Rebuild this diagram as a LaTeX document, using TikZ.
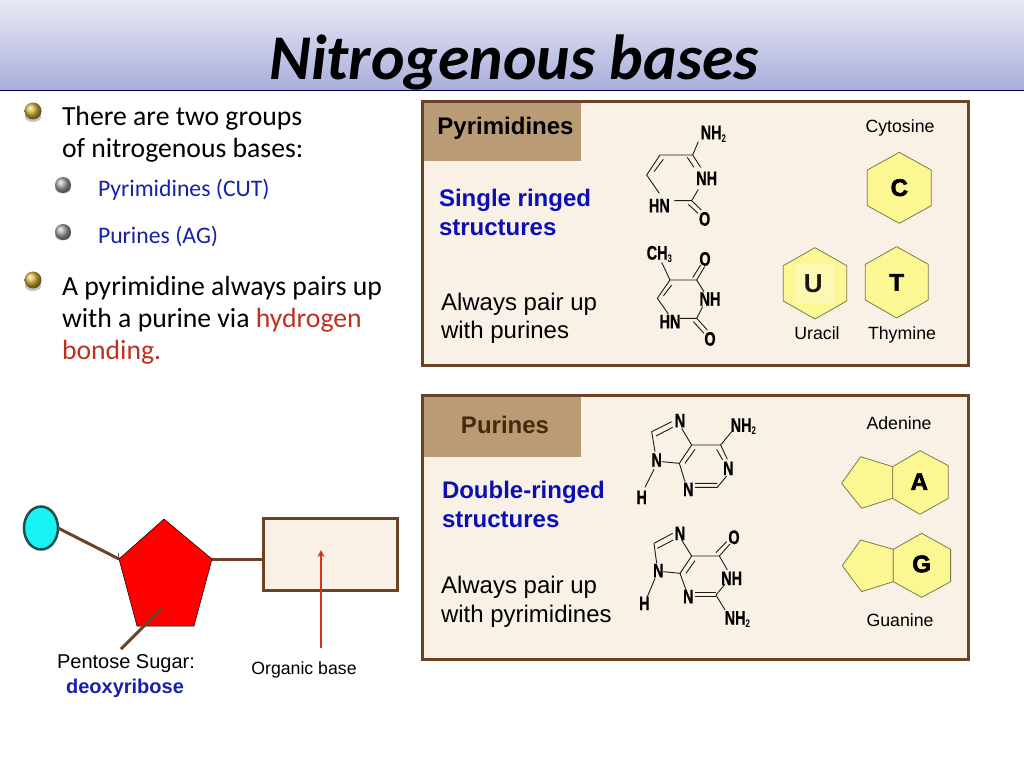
\documentclass[tikz,border=0pt]{standalone}
\usepackage{fontspec}
\usetikzlibrary{shapes.geometric,arrows.meta}
\setmainfont{Liberation Sans}
\newfontfamily\carl{Carlito}
\newfontfamily\heavy[BoldFeatures={FakeBold=2.5}]{Liberation Sans}
\newfontfamily\atomf[BoldFeatures={FakeBold=.8}]{Liberation Sans}
\definecolor{panel}{HTML}{F9F1E6}
\definecolor{brownline}{HTML}{6B4226}
\definecolor{headbox}{HTML}{B99B75}
\definecolor{hexfill}{HTML}{FBF792}
\definecolor{hexline}{HTML}{7C7A50}
\definecolor{deepblue}{HTML}{1522A8}
\definecolor{panelblue}{HTML}{0A0FB4}
\definecolor{redtxt}{HTML}{C0301F}
\definecolor{arrowred}{HTML}{D4341A}
\definecolor{purinebrown}{HTML}{472A0C}
\definecolor{bondcol}{HTML}{1E1A16}
\definecolor{bandtop}{HTML}{E9E9F5}
\definecolor{bandmid}{HTML}{CDCFEA}
\definecolor{bandbot}{HTML}{A9AEDC}
\definecolor{phosline}{HTML}{1F4E4E}
\definecolor{phosfill}{HTML}{19F2F2}
\definecolor{goldtone}{HTML}{D9B53A}
\newcommand{\fs}[1]{\fontsize{#1}{#1}\selectfont}
\newcommand{\atom}[1]{\scalebox{.74}[1]{\fontsize{19.5}{19.5}\selectfont\atomf\bfseries #1}}
\newcommand{\subtwo}[1]{\scalebox{.72}[1]{\fontsize{11}{11}\selectfont\bfseries #1}}
\tikzset{
 x=1pt,y=-1pt,
 every node/.style={inner sep=0pt,outer sep=0pt,text=black},
 body/.style={anchor=base west,font=\carl\fs{27.7}},
 subt/.style={anchor=base west,font=\carl\fs{23.7},text=deepblue},
 ptext/.style={anchor=base west,align=left,font=\fs{24}},
 pblue/.style={anchor=base west,font=\bfseries\fs{24},text=panelblue},
 captext/.style={font=\fs{17.7}},
 panelbox/.style={draw=brownline,line width=3pt,fill=panel},
 header/.style={fill=headbox},
 bond/.style={draw=bondcol,line width=.9pt},
 ring/.style={draw=hexline,fill=hexfill,line width=.8pt,line join=round},
 letter/.style={font=\heavy\bfseries\fs{24},text=black},
 zoomA/.style={shift={(630,110)},x=.3333pt,y=-.3333pt},
 zoomB/.style={shift={(630,400)},x=.3333pt,y=-.3333pt},
 goldball/.style={ball color=goldtone},
 greyball/.style={ball color=gray!70},
}
\begin{document}
\begin{tikzpicture}
\useasboundingbox (0,0) rectangle (1024,768);
\fill[white] (0,0) rectangle (1024,768);
% title band
\shade[top color=bandtop,middle color=bandmid,bottom color=bandbot] (0,0) rectangle (1024,90);
\draw[draw=black!70!blue,line width=1pt] (0,90.5) -- (1024,90.5);
\node[anchor=base,font=\carl\bfseries\itshape\fs{63.7}] (title) at (514,79) {Nitrogenous bases};
% left text
\fill[black!45,opacity=.5] (33,117) ellipse (8 and 5);
\shade[goldball] (33,111) circle (8.5);
\fill[black!45,opacity=.5] (33,286) ellipse (8 and 5);
\shade[goldball] (33,280) circle (8.5);
\fill[black!45,opacity=.5] (63,188) ellipse (8 and 5.5);
\shade[greyball] (63,185) circle (8);
\fill[black!45,opacity=.5] (63,235) ellipse (8 and 5.5);
\shade[greyball] (63,232) circle (8);
\node[body] (l1) at (62,125) {There are two groups};
\node[body] (l2) at (62,157) {of nitrogenous bases:};
\node[subt] (s1) at (98,196) {Pyrimidines (CUT)};
\node[subt] (s2) at (98,243) {Purines (AG)};
\node[body] (l3) at (62,295) {A pyrimidine always pairs up};
\node[body] (l4) at (62,327) {with a purine via \textcolor{redtxt}{hydrogen}};
\node[body,text=redtxt] (l5) at (62,359) {bonding.};
% panels
\draw[panelbox] (422,101) rectangle (968,365);
\fill[header] (423.5,102.5) rectangle (581,161);
\draw[panelbox] (422,395) rectangle (968,659);
\fill[header] (423.5,396.5) rectangle (581,457);
\node[font=\bfseries\fs{24},text=black] (h1) at (505.5,128.5) {Pyrimidines};
\node[font=\bfseries\fs{24},text=purinebrown] (h2) at (505,425) {Purines};
\node[pblue] (a1) at (439,206) {Single ringed};
\node[pblue] (a2) at (439,235) {structures};
\node[ptext] (a3) at (441,310) {Always pair up};
\node[ptext] (a4) at (441,338) {with purines};
\node[pblue] (b1) at (442,498) {Double-ringed};
\node[pblue] (b2) at (442,527) {structures};
\node[ptext] (b3) at (441,593) {Always pair up};
\node[ptext] (b4) at (441,622) {with pyrimidines};
\node[captext] (c1) at (900,128) {Cytosine};
\node[captext] (c2) at (817,333.5) {Uracil};
\node[captext] (c3) at (902,335) {Thymine};
\node[captext] (c4) at (899,423.5) {Adenine};
\node[captext] (c5) at (900,620) {Guanine};
% pyrimidine rings
\begin{scope}[zoomA]
\draw[ring] (808,127)--(904,180)--(904,287)--(808,340)--(712,287)--(712,180)--cycle;
\draw[ring] (555,413)--(650,467)--(650,573)--(555,627)--(460,573)--(460,467)--cycle;
\fill[hexfill!70!white] (497,462) rectangle (615,580);
\draw[ring] (800,410)--(895,463)--(895,570)--(800,624)--(706,570)--(706,463)--cycle;
\node[letter] (lc) at (808,233) {C};
\node[text=black!85!brown,font=\bfseries\fs{26}] (lu) at (550,521) {U};
\node[letter] (lt) at (800,517) {T};
% cytosine
\draw[bond] (205,95)--(188,135)--(90,135)--(50,195)--(88,250);
\draw[bond] (100,148)--(72,185);
\draw[bond] (188,135)--(212,172) (172,142)--(192,172);
\draw[bond] (133,272)--(185,272)--(205,238);
\draw[bond] (185,272)--(214,300) (175,283)--(204,310);
\node (x1) at (250,72) {\atom{NH}\raisebox{-3pt}{\subtwo{2}}};
\node (x2) at (230,205) {\atom{NH}};
\node (x3) at (88,287) {\atom{HN}};
\node (x4) at (224,327) {\atom{O}};
% thymine
\draw[bond] (95,457)--(120,510)--(200,510)--(222,545);
\draw[bond] (200,510)--(224,470) (188,503)--(212,465);
\draw[bond] (120,510)--(82,565)--(115,612);
\draw[bond] (125,525)--(100,558);
\draw[bond] (150,625)--(200,625)--(218,590);
\draw[bond] (200,625)--(232,660) (190,635)--(222,670);
\node (y1) at (88,433) {\atom{CH}\raisebox{-3pt}{\subtwo{3}}};
\node (y2) at (225,447) {\atom{O}};
\node (y3) at (240,567) {\atom{NH}};
\node (y4) at (120,635) {\atom{HN}};
\node (y5) at (240,687) {\atom{O}};
\end{scope}
% purine rings
\begin{scope}[zoomB]
\draw[ring] (788,200)--(692,170)--(635,250)--(695,325)--(788,295)--cycle;
\draw[ring] (788,200)--(870,152)--(955,197)--(955,295)--(870,343)--(788,295)--cycle;
\draw[ring] (790,448)--(692,420)--(637,497)--(695,575)--(790,545)--cycle;
\draw[ring] (790,448)--(875,400)--(962,448)--(962,545)--(875,592)--(790,545)--cycle;
\node[letter] (la) at (868,245) {A};
\node[letter] (lg) at (875,492) {G};
% adenine
\draw[bond] (65,95)--(125,65) (78,108)--(128,82);
\draw[bond] (65,95)--(75,155) (155,85)--(185,135)--(148,190)--(95,185);
\draw[bond] (195,148)--(165,190);
\draw[bond] (185,135)--(272,135)--(305,95);
\draw[bond] (272,135)--(292,178) (260,148)--(278,180);
\draw[bond] (148,190)--(165,245);
\draw[bond] (195,250)--(262,250) (195,262)--(262,262)--(290,228);
\draw[bond] (72,208)--(45,262);
\node (z1) at (150,62) {\atom{N}};
\node (z2) at (340,80) {\atom{NH}\raisebox{-3pt}{\subtwo{2}}};
\node (z3) at (80,180) {\atom{N}};
\node (z4) at (295,205) {\atom{N}};
\node (z5) at (175,268) {\atom{N}};
\node (z6) at (35,292) {\atom{H}};
% guanine
\draw[bond] (72,430)--(128,400) (82,445)--(130,420);
\draw[bond] (72,430)--(80,490) (155,420)--(185,468)--(150,520)--(100,515);
\draw[bond] (195,482)--(168,520);
\draw[bond] (185,468)--(268,468)--(292,510);
\draw[bond] (268,468)--(300,432) (258,458)--(290,425);
\draw[bond] (150,520)--(168,570);
\draw[bond] (195,578)--(258,578) (195,590)--(258,590);
\draw[bond] (258,585)--(285,553) (258,585)--(285,630);
\draw[bond] (75,535)--(52,590);
\node (w1) at (150,400) {\atom{N}};
\node (w2) at (312,412) {\atom{O}};
\node (w3) at (85,512) {\atom{N}};
\node (w4) at (305,535) {\atom{NH}};
\node (w5) at (175,590) {\atom{N}};
\node (w6) at (43,610) {\atom{H}};
\node (w7) at (322,658) {\atom{NH}\raisebox{-3pt}{\subtwo{2}}};
\end{scope}
% nucleotide
\coordinate (p1) at (164,519);
\coordinate (p2) at (212,559);
\coordinate (p3) at (194,626);
\coordinate (p4) at (137,626);
\coordinate (p5) at (119,559);
\node[ellipse,draw=phosline,line width=2.5pt,fill=phosfill,minimum width=34pt,minimum height=43pt] (phos) at (41,528) {};
\draw[brownline,line width=3pt] (phos.east) -- (p5);
\node[draw=brownline,line width=3pt,fill=panel,minimum width=134.5pt,minimum height=72pt] (basebox) at (330.5,554) {};
\draw[brownline,line width=3pt] (p2) -- (p2 -| basebox.west);
\fill[red] (p1)--(p2)--(p3)--(p4)--(p5)--cycle;
\draw[black,line width=.5pt] (p1)--(p2)--(p3)--(p4)--(p5)--cycle;
\draw[black,line width=.5pt] (p5) -- ++(-.5,-6);
\coordinate (sugin) at (162,608);
\coordinate (sugout) at (121,649);
\draw[brownline,line width=3pt] (sugin) -- (sugout);
\coordinate (arrowend) at (321,550);
\coordinate (arrowstart) at (321,648);
\draw[arrowred,line width=2.5pt,-{Stealth[length=7pt,width=7pt]}] (arrowstart) -- (arrowend);
\node[font=\fs{20}] (ps) at (126,664) {Pentose Sugar:};
\node[font=\bfseries\fs{20},text=deepblue] (dx) at (125,688) {deoxyribose};
\node[font=\fs{17.7}] (ob) at (304,670) {Organic base};
\end{tikzpicture}
\end{document}
